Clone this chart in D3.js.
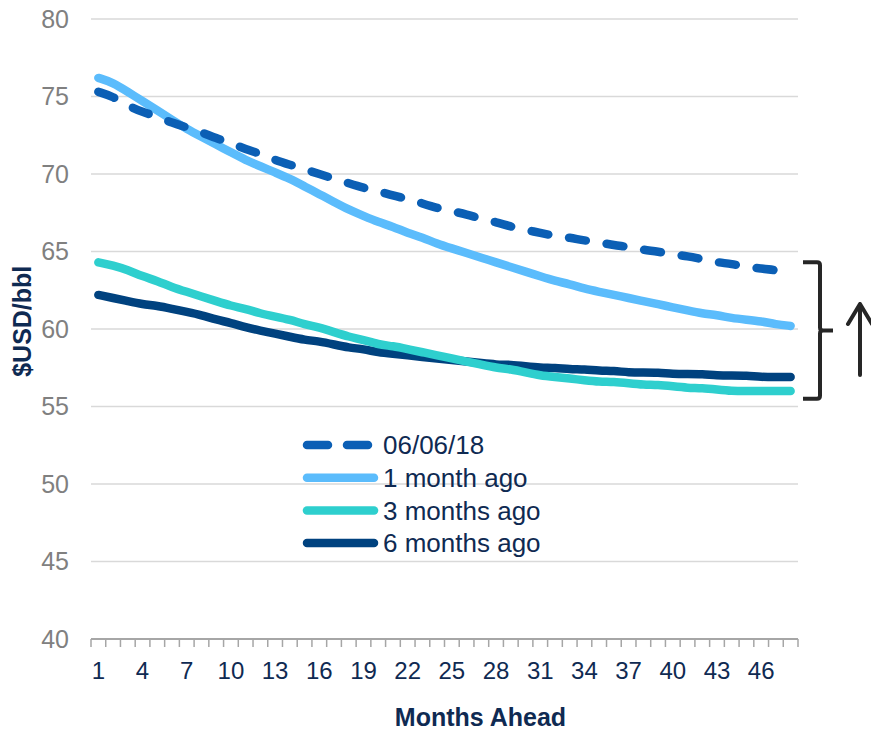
<!DOCTYPE html>
<html>
<head>
<meta charset="utf-8">
<script src="https://cdn.jsdelivr.net/npm/d3@7"></script>
<style>
  body { margin: 0; background: #fff; }
  text { font-family: "Liberation Sans", Arial, sans-serif; }
</style>
</head>
<body>
<div id="chart"></div>
<script>
const svgWidth = 871;
const svgHeight = 732;

// months 1..48
const months = d3.range(1, 49);
const xTickLabels = [1, 4, 7, 10, 13, 16, 19, 22, 25, 28, 31, 34, 37, 40, 43, 46];
const yTicks = [40, 45, 50, 55, 60, 65, 70, 75, 80];

const curveNow = [75.3, 75.0, 74.4, 74.0, 73.7, 73.3, 73.0, 72.7, 72.3, 72.0, 71.6, 71.3,
                  70.9, 70.6, 70.3, 70.0, 69.7, 69.4, 69.1, 68.9, 68.6, 68.4, 68.1, 67.8,
                  67.6, 67.4, 67.1, 66.9, 66.6, 66.4, 66.2, 66.0, 65.9, 65.7, 65.6, 65.4,
                  65.3, 65.1, 65.0, 64.8, 64.7, 64.5, 64.3, 64.2, 64.0, 63.9, 63.8, 63.6];
const curve1m = [76.2, 75.9, 75.3, 74.7, 74.1, 73.5, 72.9, 72.4, 71.9, 71.4, 70.9, 70.5,
                 70.1, 69.7, 69.2, 68.7, 68.2, 67.7, 67.3, 66.9, 66.6, 66.2, 65.9, 65.5,
                 65.2, 64.9, 64.6, 64.3, 64.0, 63.7, 63.4, 63.1, 62.9, 62.6, 62.4, 62.2,
                 62.0, 61.8, 61.6, 61.4, 61.2, 61.0, 60.9, 60.7, 60.6, 60.5, 60.3, 60.2];
const curve3m = [64.3, 64.1, 63.8, 63.4, 63.1, 62.7, 62.4, 62.1, 61.8, 61.5, 61.3, 61.0,
                 60.8, 60.6, 60.3, 60.1, 59.8, 59.5, 59.3, 59.0, 58.9, 58.7, 58.5, 58.3,
                 58.1, 57.9, 57.7, 57.5, 57.4, 57.2, 57.0, 56.9, 56.8, 56.7, 56.6, 56.6,
                 56.5, 56.4, 56.4, 56.3, 56.2, 56.2, 56.1, 56.0, 56.0, 56.0, 56.0, 56.0];
const curve6m = [62.2, 62.0, 61.8, 61.6, 61.5, 61.3, 61.1, 60.9, 60.6, 60.4, 60.1, 59.9,
                 59.7, 59.5, 59.3, 59.2, 59.0, 58.8, 58.7, 58.5, 58.4, 58.3, 58.2, 58.1,
                 58.0, 57.9, 57.8, 57.7, 57.7, 57.6, 57.5, 57.5, 57.4, 57.4, 57.3, 57.3,
                 57.2, 57.2, 57.2, 57.1, 57.1, 57.1, 57.0, 57.0, 57.0, 56.9, 56.9, 56.9];

const seriesNames = ['06/06/18', '1 month ago', '3 months ago', '6 months ago'];
const seriesColors = ['#0b5fb5', '#5bbcfc', '#2ecfce', '#00427f'];

const series = [
    {name: seriesNames[0], values: curveNow, color: seriesColors[0], dashed: true},
    {name: seriesNames[1], values: curve1m, color: seriesColors[1], dashed: false},
    {name: seriesNames[2], values: curve3m, color: seriesColors[2], dashed: false},
    {name: seriesNames[3], values: curve6m, color: seriesColors[3], dashed: false}
];

const margin = {top: 19, right: 73, bottom: 93, left: 91};
const width = svgWidth - margin.left - margin.right;
const height = svgHeight - margin.top - margin.bottom;

const svg = d3.select('#chart')
    .append('svg')
    .attr('width', svgWidth)
    .attr('height', svgHeight);

const chartGroup = svg.append('g')
    .attr('transform', `translate(${margin.left}, ${margin.top})`);

const xScale = d3.scaleBand()
    .domain(months)
    .range([0, width]);

const yScale = d3.scaleLinear()
    .domain([40, 80])
    .range([height, 0]);

// gridlines
chartGroup.append('g')
    .selectAll('line')
    .data(yTicks.filter(d => d > 40))
    .enter().append('line')
    .attr('x1', 0)
    .attr('x2', width)
    .attr('y1', d => yScale(d))
    .attr('y2', d => yScale(d))
    .attr('stroke', '#d9d9d9')
    .attr('stroke-width', 1.5);

// y tick labels
chartGroup.append('g')
    .selectAll('text')
    .data(yTicks)
    .enter().append('text')
    .attr('x', -22)
    .attr('y', d => yScale(d))
    .attr('dy', '0.35em')
    .attr('text-anchor', 'end')
    .attr('font-size', 25)
    .attr('fill', '#808080')
    .text(d => d);

// x axis line + ticks at band edges
const xAxisG = chartGroup.append('g').attr('transform', `translate(0,${height})`);
xAxisG.append('line')
    .attr('x1', 0).attr('x2', width)
    .attr('stroke', '#a6a6a6').attr('stroke-width', 2);
xAxisG.selectAll('line.tick')
    .data(months.concat([49]))
    .enter().append('line')
    .attr('class', 'tick')
    .attr('x1', d => d <= 48 ? xScale(d) : width)
    .attr('x2', d => d <= 48 ? xScale(d) : width)
    .attr('y1', 0).attr('y2', 8)
    .attr('stroke', '#a6a6a6').attr('stroke-width', 1.5);
xAxisG.selectAll('text')
    .data(xTickLabels)
    .enter().append('text')
    .attr('x', d => xScale(d) + xScale.bandwidth() / 2)
    .attr('y', 32)
    .attr('dy', '0.35em')
    .attr('text-anchor', 'middle')
    .attr('font-size', 24)
    .attr('fill', '#0f2a52')
    .text(d => d);

// axis titles
chartGroup.append('text')
    .attr('transform', 'rotate(-90)')
    .attr('x', -(yScale(60.5)))
    .attr('y', -60)
    .attr('text-anchor', 'middle')
    .attr('font-size', 25)
    .attr('font-weight', 'bold')
    .attr('fill', '#0f2a52')
    .text('$USD/bbl');

chartGroup.append('text')
    .attr('x', width / 2 + 36)
    .attr('y', height + 87)
    .attr('text-anchor', 'middle')
    .attr('font-size', 25)
    .attr('font-weight', 'bold')
    .attr('fill', '#0f2a52')
    .text('Months Ahead');

// lines
const line = d3.line()
    .x((d, i) => xScale(months[i]) + xScale.bandwidth() / 2)
    .y(d => yScale(d))
    .curve(d3.curveBasis);

chartGroup.selectAll('path.series')
    .data(series.slice().reverse())
    .enter().append('path')
    .attr('class', 'series')
    .attr('d', d => line(d.values))
    .attr('fill', 'none')
    .attr('stroke', d => d.color)
    .attr('stroke-width', 8.5)
    .attr('stroke-linecap', 'round')
    .attr('stroke-linejoin', 'round')
    .attr('stroke-dasharray', d => d.dashed ? '17,21' : null);

// legend
const legend = svg.append('g').attr('transform', 'translate(307, 445)');
const legendRow = legend.selectAll('g')
    .data(series)
    .enter().append('g')
    .attr('transform', (d, i) => `translate(0, ${i * 32.7})`);
legendRow.append('line')
    .attr('x1', 0).attr('x2', 67)
    .attr('stroke', d => d.color)
    .attr('stroke-width', 8.5)
    .attr('stroke-linecap', 'round')
    .attr('stroke-dasharray', d => d.dashed ? '21,19' : null);
legendRow.append('text')
    .attr('x', 76)
    .attr('dy', '0.35em')
    .attr('font-size', 26)
    .attr('fill', '#0f2a52')
    .text(d => d.name);

// bracket and arrow annotation
const bTop = margin.top + yScale(64.3);
const bBot = margin.top + yScale(55.5);
const bMid = (bTop + bBot) / 2;
const bx = 820;
svg.append('path')
    .attr('d', `M803,${bTop} H${bx - 3} Q${bx},${bTop} ${bx},${bTop + 3} V${bMid - 3} Q${bx},${bMid} ${bx + 3},${bMid} H833
                M${bx + 3},${bMid} Q${bx},${bMid} ${bx},${bMid + 3} V${bBot - 3} Q${bx},${bBot} ${bx - 3},${bBot} H803`)
    .attr('fill', 'none')
    .attr('stroke', '#262626')
    .attr('stroke-width', 4);

svg.append('path')
    .attr('d', 'M860,375 V304 M848,324 L860,304 L872,324')
    .attr('fill', 'none')
    .attr('stroke', '#262626')
    .attr('stroke-width', 4)
    .attr('stroke-linecap', 'round')
    .attr('stroke-linejoin', 'round');
</script>
</body>
</html>
